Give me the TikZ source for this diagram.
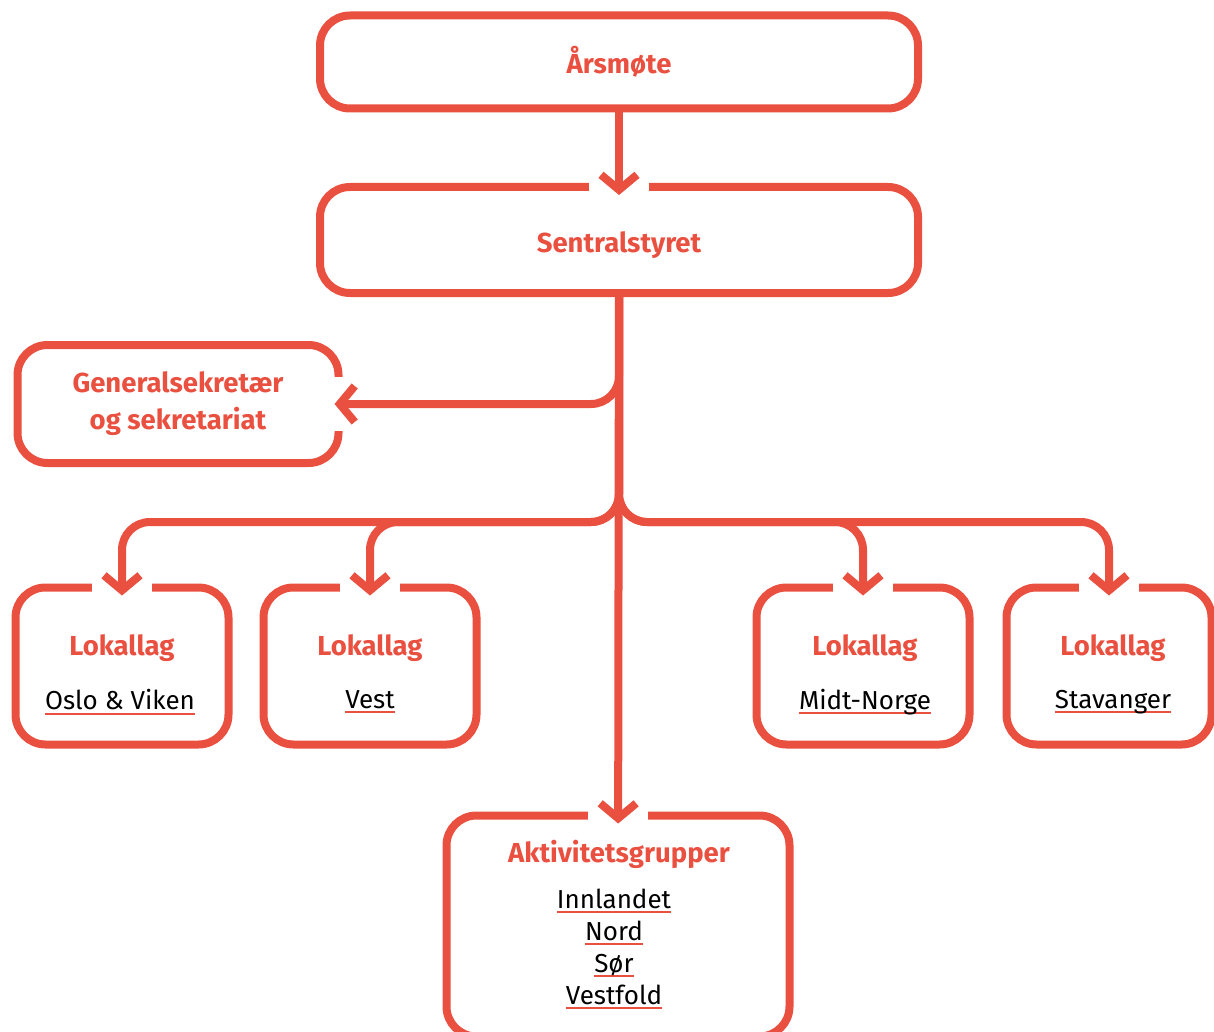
\documentclass[tikz,border=0pt]{standalone}
\usepackage{fontspec}
\setmainfont{Fira Sans}
\usetikzlibrary{arrows.meta}
\definecolor{lagred}{RGB}{233,80,64}
% black name, red line under it
\newcommand\understrek[1]{\setbox0\hbox{#1}\rlap{\textcolor{lagred}{\rule[-5pt]{\wd0}{2pt}}}\box0}

\begin{document}
\begin{tikzpicture}[x=1pt, y=-1pt,
    boks/.style={draw=lagred, line width=8pt, rounded corners=30pt,
        outer sep=0pt, inner sep=0pt},
    tittel/.style={text=lagred, align=center,
        font=\fontsize{27.5}{37}\selectfont\bfseries},
    navn/.style={align=center, font=\fontsize{26}{32}\selectfont},
    pil/.style={draw=lagred, line width=8pt, line join=miter,
        -{Straight Barb[length=15pt, width=36pt]}, shorten >=-8pt},
    gren/.style={pil, rounded corners=28pt}]
    \useasboundingbox (0, 0) rectangle (1214, 1032);
    % Boxes
    \node [boks, tittel, minimum width=598, minimum height=93]
        (aars) at (619, 62) {Årsmøte};
    \node [boks, tittel, minimum width=598, minimum height=106, text height=32pt]
        (sentral) at (619, 240) {Sentralstyret};
    \node [boks, tittel, minimum width=321, minimum height=118]
        (gensek) at (178, 404) {Generalsekretær\\og sekretariat};
    \node [boks, minimum width=213, minimum height=157] (oslo) at (122, 666) {};
    \node [boks, minimum width=213, minimum height=157] (vest) at (370, 666) {};
    \node [boks, minimum width=213, minimum height=157] (midt) at (863, 666) {};
    \node [boks, minimum width=205, minimum height=157] (stav) at (1109, 666) {};
    \node [boks, minimum width=343, minimum height=221] (aktiv) at (618, 926) {};
    %% Texts
    \node [tittel] (oslo-t) at (122, 648) {Lokallag};
    \node [navn] (oslo-n) at (120, 702) {\understrek{Oslo \& Viken}};
    \node [tittel] (vest-t) at (370, 648) {Lokallag};
    \node [navn] (vest-n) at (370, 702) {\understrek{Vest}};
    \node [tittel] (midt-t) at (865, 648) {Lokallag};
    \node [navn] (midt-n) at (865, 702) {\understrek{Midt-Norge}};
    \node [tittel] (stav-t) at (1113, 648) {Lokallag};
    \node [navn] (stav-n) at (1113, 702) {\understrek{Stavanger}};
    \node [tittel] (aktiv-t) at (619, 854) {Aktivitetsgrupper};
    \node [navn] (aktiv-n) at (614, 949)
        {\understrek{Innlandet}\\\understrek{Nord}\\\understrek{Sør}\\\understrek{Vestfold}};
    %% Gaps where the arrows go in
    \foreach \b in {sentral, oslo, vest, midt, stav, aktiv}
        \fill [white] ([xshift=-30pt, yshift=-6pt]\b.north)
            rectangle ([xshift=30pt, yshift=6pt]\b.north);
    \fill [white] ([xshift=-6pt, yshift=-27pt]gensek.east)
        rectangle ([xshift=6pt, yshift=27pt]gensek.east);
    % Arrows
    \coordinate (knute) at (sentral.south |- 0, 522);
    \draw [pil] (aars) -- (sentral);
    \draw [pil] (sentral) -- (aktiv);
    \draw [gren, shorten >=-4pt] (sentral.south) |- (gensek.east);
    \foreach \b in {oslo, vest, midt, stav}
        \draw [gren] (sentral.south) -- (knute) -| (\b.north);
\end{tikzpicture}
\end{document}
